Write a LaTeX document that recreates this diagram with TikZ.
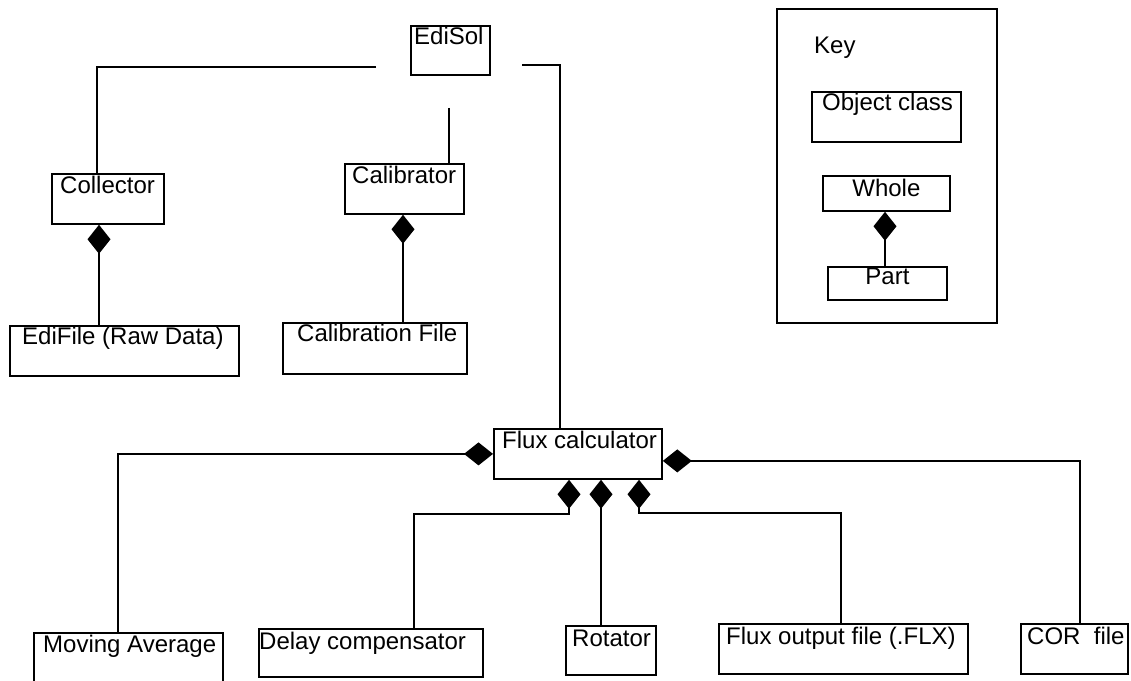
\documentclass[tikz,border=0pt]{standalone}
\usepackage{fontspec}
\setmainfont{Liberation Sans}
\usetikzlibrary{arrows.meta,calc}
\begin{document}
\begin{tikzpicture}[x=1pt,y=1pt,
  box/.style={draw, line width=1.8pt, inner sep=0pt, anchor=north west},
  lbl/.style={inner sep=0pt, anchor=base west, font=\fontsize{24}{28}\selectfont},
  clbl/.style={inner sep=0pt, anchor=base, font=\fontsize{24}{28}\selectfont},
  link/.style={line width=1.8pt},
  comp/.style={line width=1.8pt, -{Diamond[length=29pt,width=23pt]}}]
\useasboundingbox (0,0) rectangle (1131,680);

% boxes
\node[box, minimum width=79pt,  minimum height=49pt] (edisol)  at (410,655) {};
\node[box, minimum width=112pt, minimum height=50pt] (coll)    at (51,507) {};
\node[box, minimum width=119pt, minimum height=50pt] (calib)   at (344,517) {};
\node[box, minimum width=229pt, minimum height=50pt] (edifile) at (9,355) {};
\node[box, minimum width=184pt, minimum height=51pt] (calfile) at (282,358) {};
\node[box, minimum width=168pt, minimum height=50pt] (flux)    at (493,252) {};
\node[box, minimum width=189pt, minimum height=50pt] (mavg)    at (33,48) {};
\node[box, minimum width=224pt, minimum height=48pt] (delay)   at (258,52) {};
\node[box, minimum width=90pt,  minimum height=49pt] (rot)     at (565,55) {};
\node[box, minimum width=249pt, minimum height=50pt] (fout)    at (718,57) {};
\node[box, minimum width=107pt, minimum height=50pt] (cor)     at (1020,57) {};
\node[box, minimum width=220pt, minimum height=314pt] (key)    at (776,672) {};
\node[box, minimum width=149pt, minimum height=50pt] (objc)    at (811,589) {};
\node[box, minimum width=127pt, minimum height=35pt] (whole)   at (822,505) {};
\node[box, minimum width=119pt, minimum height=33pt] (part)    at (827,414) {};

% labels
\node[lbl] (edisol-t)  at ($(edisol.north west)+(4,-20)$) {EdiSol};
\node[lbl] (coll-t)    at ($(coll.north west)+(9,-21)$) {Collector};
\node[lbl] (calib-t)   at ($(calib.north west)+(8,-21)$) {Calibrator};
\node[lbl] (edifile-t) at ($(edifile.north west)+(13,-20)$) {EdiFile (Raw Data)};
\node[lbl] (calfile-t) at ($(calfile.north west)+(15,-20)$) {Calibration File};
\node[lbl] (flux-t)    at ($(flux.north west)+(9,-21)$) {Flux calculator};
\node[lbl] (mavg-t)    at ($(mavg.north west)+(10,-20)$) {Moving Average};
\node[lbl] (delay-t)   at ($(delay.north west)+(1,-21)$) {Delay compensator};
\node[lbl] (rot-t)     at ($(rot.north west)+(7,-21)$) {Rotator};
\node[lbl] (fout-t)    at ($(fout.north west)+(8,-21)$) {Flux output file (.FLX)};
\node[lbl] (cor-t)     at ($(cor.north west)+(7,-21)$) {COR\ \ file};
\node[lbl] (key-t)     at (814,626) {Key};
\node[lbl] (objc-t)    at ($(objc.north west)+(11,-20)$) {Object class};
\node[clbl] (whole-t)  at ($(whole.north)+(0,-22)$) {Whole};
\node[clbl] (part-t)   at ($(part.north)+(0,-19)$) {Part};

% free ends near EdiSol
\coordinate (eL) at (376,613);
\coordinate (eM) at (449,572);
\coordinate (eR) at (522,615);

% connectors
\draw[link] (eL) -| ($(coll.north west)+(46,0)$);
\draw[link] (eM) -- (eM |- calib.north);
\draw[link] (eR) -| ($(flux.north west)+(67,0)$);

\draw[comp] ($(edifile.north west)+(90,0)$) -- ($(coll.south west)+(48,0)$);
\draw[comp] ($(calfile.north west)+(121,0)$) -- ($(calib.south west)+(59,0)$);

\draw[comp] ($(mavg.north west)+(85,0)$) |- (flux.west);
\draw[comp] ($(cor.north west)+(60,0)$) |- ([yshift=-7pt]flux.east);
\draw[comp] ($(delay.north west)+(156,0)$) -- ++(0,114) -| ($(flux.south west)+(76,0)$);
\draw[comp] ($(rot.north west)+(36,0)$) -- ($(flux.south west)+(108,0)$);
\draw[comp] ($(fout.north west)+(123,0)$) -- ++(0,110) -| ($(flux.south west)+(146,0)$);

\draw[comp] ($(part.north west)+(58,0)$) -- ($(whole.south west)+(63,0)$);
\end{tikzpicture}
\end{document}
